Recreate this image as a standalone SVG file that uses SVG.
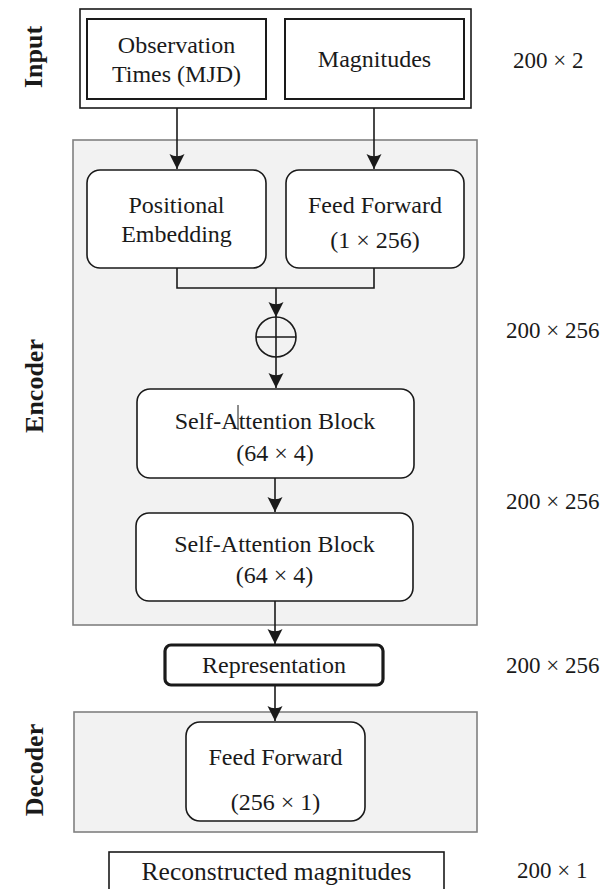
<svg xmlns="http://www.w3.org/2000/svg" width="603" height="889" viewBox="0 0 603 889">
<style>
  text { font-family: "Liberation Serif", "Times New Roman", serif; fill: #1a1a1a; }
  .lbl { font-size: 24px; text-anchor: middle; }
  .dim { font-size: 23px; }
  .side { font-size: 26px; font-weight: bold; text-anchor: middle; }
  .box { fill: #ffffff; stroke: #1a1a1a; stroke-width: 1.6; }
  .thick { stroke-width: 3.2; }
  .inner { stroke-width: 2; }
  .grp { fill: #f2f2f2; stroke: #808080; stroke-width: 1.6; }
  .conn { fill: none; stroke: #1a1a1a; stroke-width: 1.6; }
</style>
<defs>
  <marker id="arr" markerUnits="userSpaceOnUse" markerWidth="18" markerHeight="18" viewBox="-16 -9 18 18" refX="0" refY="0" orient="auto">
    <path d="M0,0 L-15,-7.5 Q-10.5,0 -15,7.5 Z" fill="#1a1a1a"/>
  </marker>
</defs>
<rect width="603" height="889" fill="#ffffff"/>

<g id="encoder-bg">
  <rect class="grp" x="73" y="140" width="404" height="485"/>
</g>
<g id="decoder-bg">
  <rect class="grp" x="74" y="712" width="403" height="120"/>
</g>

<g id="side-labels">
  <text class="side" transform="translate(42,57) rotate(-90)">Input</text>
  <text class="side" transform="translate(43,386) rotate(-90)">Encoder</text>
  <text class="side" transform="translate(43,770) rotate(-90)">Decoder</text>
</g>

<g id="input">
  <rect class="box" x="80" y="9" width="391" height="99"/>
  <g id="obs-times">
    <rect class="box inner" x="87" y="19" width="179" height="80"/>
    <text class="lbl" x="176.5" y="53">Observation</text>
    <text class="lbl" x="176.5" y="82">Times (MJD)</text>
  </g>
  <g id="magnitudes">
    <rect class="box inner" x="285" y="19" width="179" height="80"/>
    <text class="lbl" x="374.5" y="67">Magnitudes</text>
  </g>
</g>

<g id="positional-embedding">
  <rect class="box" x="87" y="170" width="179" height="98" rx="13"/>
  <text class="lbl" x="176.5" y="213">Positional</text>
  <text class="lbl" x="176.5" y="242">Embedding</text>
</g>
<g id="feed-forward-enc">
  <rect class="box" x="286" y="170" width="178" height="98" rx="13"/>
  <text class="lbl" x="375" y="213">Feed Forward</text>
  <text class="lbl" x="375" y="248">(1 × 256)</text>
</g>

<g id="add">
  <circle cx="276" cy="337" r="20" fill="none" stroke="#1a1a1a" stroke-width="1.6"/>
  <line x1="256" y1="337" x2="296" y2="337" stroke="#1a1a1a" stroke-width="1.6"/>
  <line x1="276" y1="317" x2="276" y2="357" stroke="#1a1a1a" stroke-width="1.6"/>
</g>

<g id="self-attention-1">
  <rect class="box" x="137" y="389" width="277" height="89" rx="13"/>
  <text class="lbl" x="275" y="429">Self-Attention Block</text>
  <text class="lbl" x="275" y="461">(64 × 4)</text>
  <line x1="238" y1="405" x2="238" y2="430" stroke="#1a1a1a" stroke-width="1"/>
</g>
<g id="self-attention-2">
  <rect class="box" x="136" y="513" width="277" height="88" rx="13"/>
  <text class="lbl" x="274.5" y="552">Self-Attention Block</text>
  <text class="lbl" x="274.5" y="583">(64 × 4)</text>
</g>

<g id="representation">
  <rect class="box thick" x="165" y="645" width="218" height="40" rx="6"/>
  <text class="lbl" x="274" y="673">Representation</text>
</g>

<g id="feed-forward-dec">
  <rect class="box" x="186" y="722" width="179" height="99" rx="14"/>
  <text class="lbl" x="275.5" y="765">Feed Forward</text>
  <text class="lbl" x="275.5" y="810">(256 × 1)</text>
</g>

<g id="reconstructed">
  <rect class="box" x="109" y="852" width="335" height="45"/>
  <text class="lbl" x="276.5" y="880" style="font-size:25.5px">Reconstructed magnitudes</text>
</g>

<g id="dims">
  <text class="dim" x="513" y="68">200 × 2</text>
  <text class="dim" x="506" y="338">200 × 256</text>
  <text class="dim" x="506" y="509">200 × 256</text>
  <text class="dim" x="506" y="673">200 × 256</text>
  <text class="dim" x="517" y="878">200 × 1</text>
</g>

<g id="connectors">
  <line class="conn" x1="177" y1="108" x2="177" y2="169" marker-end="url(#arr)"/>
  <line class="conn" x1="374" y1="108" x2="374" y2="169" marker-end="url(#arr)"/>
  <polyline class="conn" points="177,268 177,288 374,288 374,268"/>
  <line class="conn" x1="276" y1="288" x2="276" y2="317" marker-end="url(#arr)"/>
  <line class="conn" x1="276" y1="357" x2="276" y2="388" marker-end="url(#arr)"/>
  <line class="conn" x1="275" y1="478" x2="275" y2="512" marker-end="url(#arr)"/>
  <line class="conn" x1="275" y1="601" x2="275" y2="644" marker-end="url(#arr)"/>
  <line class="conn" x1="275" y1="685" x2="275" y2="721" marker-end="url(#arr)"/>
</g>
</svg>
